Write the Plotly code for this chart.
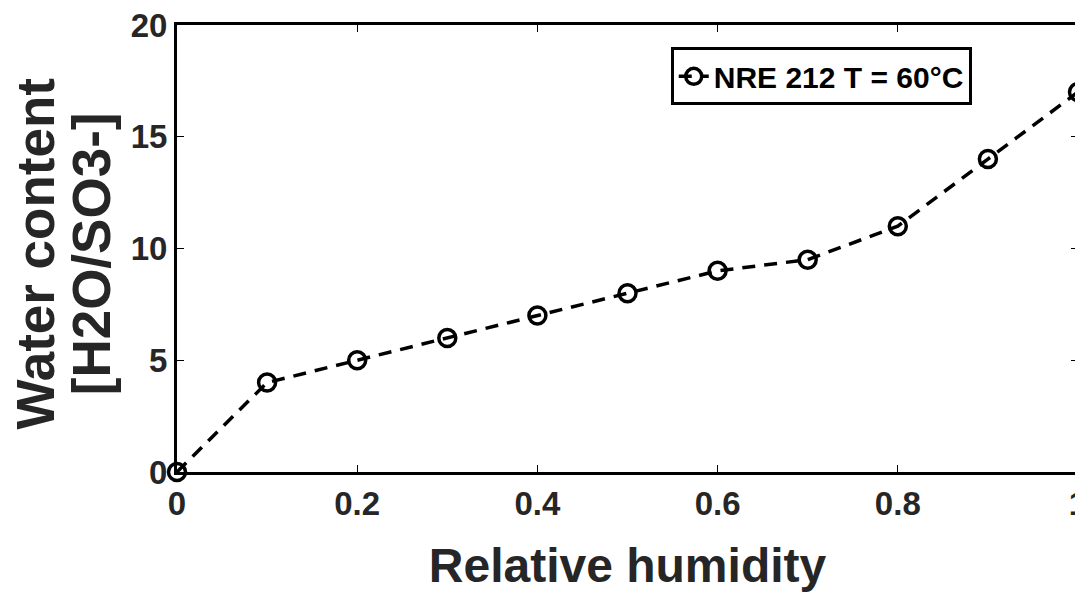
import plotly.graph_objects as go

# relative humidity vs. water content (lambda)
rh = [0, 0.1, 0.2, 0.3, 0.4, 0.5, 0.6, 0.7, 0.8, 0.9, 1.0]
water = [0, 4, 5, 6, 7, 8, 9, 9.5, 11, 14, 17]
x_ticks = [0, 0.2, 0.4, 0.6, 0.8, 1]
x_labels = ['0', '0.2', '0.4', '0.6', '0.8', '1']
y_ticks = [0, 5, 10, 15, 20]

font_bold = 'Liberation Sans'
txt_color = '#262626'

trace = go.Scatter(
    x=rh,
    y=water,
    mode='lines+markers',
    name='<b>NRE 212 T = 60°C</b>',
    line=dict(color='black', width=3.5, dash='13px,9px'),
    marker=dict(symbol='circle-open', size=17, color='black', line=dict(width=3.5)),
    cliponaxis=False,
)

axis_common = dict(
    showline=True, linewidth=3, linecolor='black', mirror='ticks',
    ticks='inside', ticklen=7, tickwidth=1, tickcolor='black',
    showgrid=False, zeroline=False, automargin=False,
    ticklabeloverflow='allow',
    tickfont=dict(family=font_bold, size=33, color=txt_color),
)

# the page body adds an 8px offset, so margins are set 8px smaller on top/left
layout = go.Layout(
    width=1083, height=592,
    margin=dict(l=169, r=13, t=17, b=128),
    plot_bgcolor='white', paper_bgcolor='white',
    xaxis=dict(
        axis_common, range=[0, 1], tickvals=x_ticks, ticktext=['<b>%s</b>' % t for t in x_labels],
        title=dict(text='<b>Relative humidity</b>', font=dict(family=font_bold, size=48, color=txt_color), standoff=28),
    ),
    yaxis=dict(
        axis_common, range=[0, 20], tickvals=y_ticks, ticktext=['<b>%d</b>' % t for t in y_ticks],
    ),
    annotations=[
        dict(text='<b>Water content</b>', xref='paper', yref='paper', x=-0.157, y=0.488,
             xanchor='center', yanchor='middle', textangle=-90, showarrow=False,
             font=dict(family=font_bold, size=53, color=txt_color)),
        dict(text='<b>[H2O/SO3-]</b>', xref='paper', yref='paper', x=-0.095, y=0.488,
             xanchor='center', yanchor='middle', textangle=-90, showarrow=False,
             font=dict(family=font_bold, size=53, color=txt_color)),
    ],
    showlegend=True,
    legend=dict(
        x=0.548, y=0.95, xanchor='left', yanchor='top',
        bgcolor='white', bordercolor='black', borderwidth=3,
        font=dict(family=font_bold, size=30, color='black'),
        itemwidth=30, tracegroupgap=0,
    ),
)

fig = go.Figure(data=[trace], layout=layout)
fig.write_html('out.html')
